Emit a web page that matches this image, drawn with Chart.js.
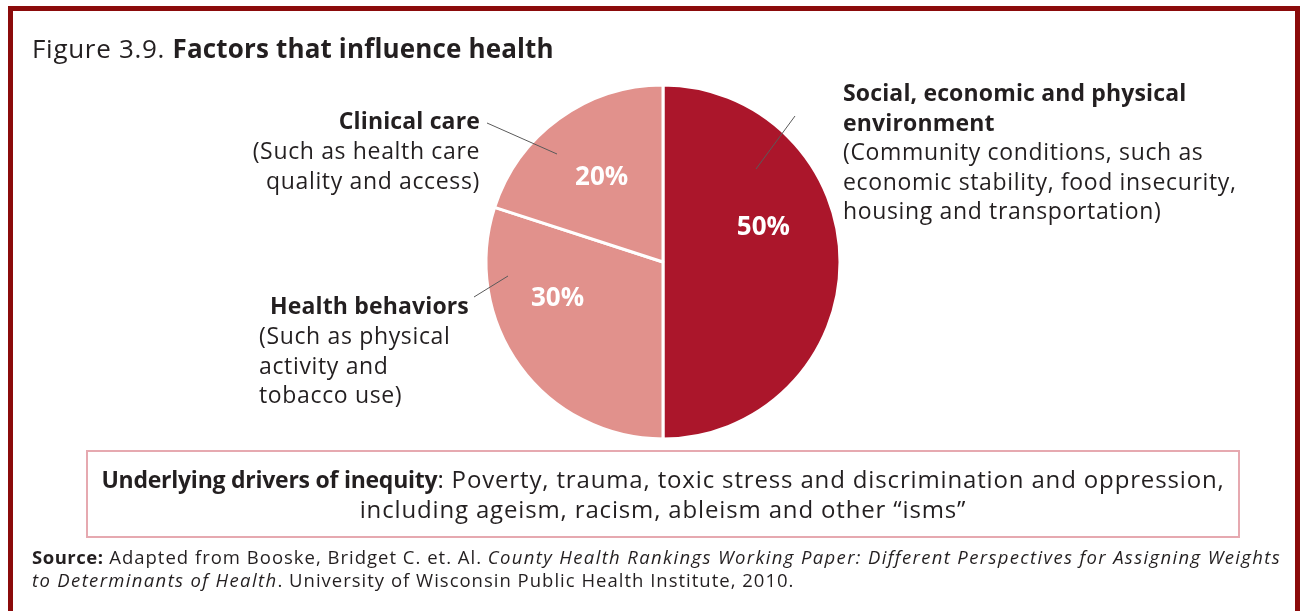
<!DOCTYPE html>
<html>
<head>
<meta charset="utf-8">
<script src="https://cdn.jsdelivr.net/npm/chart.js@4.4.0/dist/chart.umd.min.js"></script>
<style>
  html, body { margin: 0; padding: 0; background: #fff; }
  body { width: 1302px; height: 611px; position: relative; overflow: hidden;
         font-family: 'Open Sans', sans-serif; color: #231f20; }
  .frame { position: absolute; left: 8px; top: 6px; width: 1292px; height: 640px;
           box-sizing: border-box; border: 5px solid #8b0b0b; }
  #wrap { position: absolute; left: 0; top: 0; width: 1302px; height: 611px; }
  .t { position: absolute; white-space: nowrap; }
  b { font-weight: 700; }
  .title { left: 32px; top: 28px; font-size: 26px; line-height: 40px; letter-spacing: 0.7px; }
  .title b { letter-spacing: 0.15px; }
  .lab { font-size: 23px; line-height: 29.5px; letter-spacing: 0.65px; }
  .lab b { letter-spacing: 0.15px; }
  .box { position: absolute; left: 86px; top: 450px; width: 1154px; height: 88px;
         box-sizing: border-box; border: 2px solid #e6a9b0; text-align: center;
         font-size: 24px; line-height: 30px; padding-top: 12px; letter-spacing: 0.85px;
         white-space: nowrap; }
  .box b { font-size: 23px; letter-spacing: -0.25px; }
  .src { left: 32px; top: 545px; font-size: 18.5px; line-height: 23px; letter-spacing: 1px; }
  .src b { letter-spacing: 0.5px; }
  .src i { letter-spacing: 1.35px; }
</style>
</head>
<body>
<div class="frame"></div>
<div id="wrap"><canvas id="pie" width="1302" height="611"></canvas></div>

<div class="t title">Figure 3.9. <b>Factors that influence health</b></div>

<div class="t lab" style="right:822px; top:105px; text-align:right; line-height:30px;">
  <b>Clinical care</b><br>(Such as health care<br>quality and access)
</div>

<div class="t lab" style="left:270px; top:290px; line-height:30px;"><b>Health behaviors</b></div>
<div class="t lab" style="left:259px; top:321px;">(Such as physical<br>activity and<br>tobacco use)</div>

<div class="t lab" style="left:843px; top:78px;">
  <b>Social, economic and physical<br>environment</b><br>(Community conditions, such as<br>economic stability, food insecurity,<br>housing and transportation)
</div>

<div class="box"><b>Underlying drivers of inequity</b>: Poverty, trauma, toxic stress and discrimination and oppression,<br>including ageism, racism, ableism and other “isms”</div>

<div class="t src"><b>Source:</b> Adapted from Booske, Bridget C. et. Al. <i>County Health Rankings Working Paper: Different Perspectives for Assigning Weights</i><br><i>to Determinants of Health</i>. University of Wisconsin Public Health Institute, 2010.</div>

<script>
// data
const categories = ['Social, economic and physical environment', 'Health behaviors', 'Clinical care'];
const shares = [50, 30, 20];
const sliceColors = ['#ab162b', '#e1918c', '#e1918c'];

// where the % text sits inside each slice: clock angle (deg) and fraction of radius
const labelAngle = [71, 251, 324];
const labelDist = [0.6, 0.63, 0.59];

// thin leader lines from the text blocks into the slices
const leaders = [
  [795, 116, 756, 169],
  [474, 297, 508, 276],
  [487, 123, 557, 154]
];

const sliceText = {
  id: 'sliceText',
  afterDatasetsDraw(chart) {
    const ctx = chart.ctx;
    ctx.save();
    ctx.strokeStyle = '#5a5a5a';
    ctx.lineWidth = 1;
    leaders.forEach(l => {
      ctx.beginPath();
      ctx.moveTo(l[0], l[1]);
      ctx.lineTo(l[2], l[3]);
      ctx.stroke();
    });
    ctx.fillStyle = '#fff';
    ctx.font = "bold 26px 'Open Sans'";
    ctx.textAlign = 'center';
    ctx.textBaseline = 'middle';
    chart.getDatasetMeta(0).data.forEach((arc, i) => {
      const p = arc.getProps(['x', 'y', 'outerRadius'], true);
      const a = labelAngle[i] * Math.PI / 180;
      const r = p.outerRadius * labelDist[i];
      ctx.fillText(shares[i] + '%', p.x + Math.sin(a) * r, p.y - Math.cos(a) * r);
    });
    ctx.restore();
  }
};

new Chart(document.getElementById('pie'), {
  type: 'pie',
  data: {
    labels: categories,
    datasets: [{
      data: shares,
      backgroundColor: sliceColors,
      borderColor: '#fff',
      borderWidth: 3
    }]
  },
  options: {
    responsive: false,
    animation: false,
    devicePixelRatio: 1,
    layout: { padding: { left: 484.5, right: 460.5, top: 83.5, bottom: 170.5 } },
    plugins: { legend: { display: false }, tooltip: { enabled: false } }
  },
  plugins: [sliceText]
});
</script>
</body>
</html>
